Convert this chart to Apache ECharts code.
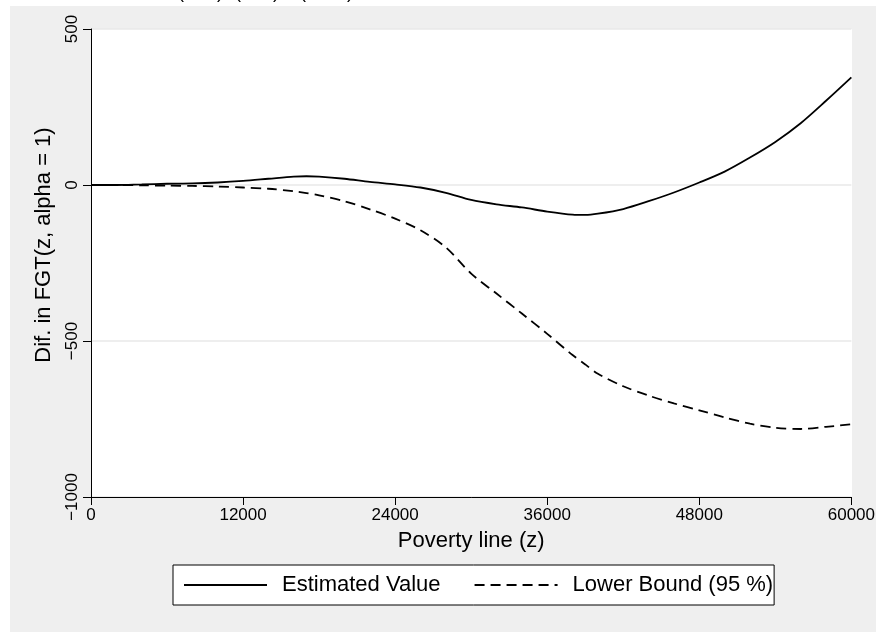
<!DOCTYPE html>
<html>
<head>
<meta charset="utf-8">
<script src="https://cdn.jsdelivr.net/npm/echarts@6/dist/echarts.min.js"></script>
<style>
html,body{margin:0;padding:0;background:#fff;}
#c{width:878px;height:632px;}
</style>
</head>
<body>
<div id="c"></div>
<script>
const povertyLine = [0,2000,4000,6000,8000,10000,12000,14000,16000,17000,18000,20000,22000,24000,26000,28000,30000,32000,34000,36000,38000,39000,40000,42000,44000,46000,48000,50000,52000,54000,56000,58000,60000];
const estimatedValue = [0,0,2,4,5,8,13,20,27,28,27,20,10,2,-8,-25,-48,-62,-72,-85,-95,-96,-92,-77,-52,-24,8,43,88,138,198,270,345];
const lowerBound = [0,0,-1,-2,-3,-5,-8,-12,-20,-26,-33,-52,-78,-108,-145,-200,-284,-348,-412,-477,-545,-575,-605,-645,-675,-700,-722,-745,-765,-778,-782,-775,-767];
const xTicks = [0,12000,24000,36000,48000,60000];
const yTicks = [-1000,-500,0,500];
const seriesNames = ['Estimated Value','Lower Bound (95 %)'];

const pair = (xs, ys) => xs.map((x,i)=>[x, ys[i]]);
const FONT = 'Liberation Sans, Arial, Helvetica, sans-serif';

const chart = echarts.init(document.getElementById('c'), null, {renderer:'canvas'});
chart.setOption({
  animation:false,
  backgroundColor:'#ffffff',
  graphic:[
    {type:'rect', shape:{x:10,y:6,width:866,height:640}, style:{fill:'#efefef'}, z:-10, silent:true},
    {type:'rect', shape:{x:91,y:29,width:761,height:468}, style:{fill:'#ffffff'}, z:-9, silent:true},
    {type:'text', x:178, y:-16, style:{text:'(', font:'18px '+FONT, fill:'#000'}},
    {type:'text', x:217, y:-16, style:{text:')', font:'18px '+FONT, fill:'#000'}},
    {type:'text', x:235, y:-16, style:{text:'(', font:'18px '+FONT, fill:'#000'}},
    {type:'text', x:273, y:-16, style:{text:')', font:'18px '+FONT, fill:'#000'}},
    {type:'text', x:300, y:-16, style:{text:'(', font:'18px '+FONT, fill:'#000'}},
    {type:'text', x:347, y:-16, style:{text:')', font:'18px '+FONT, fill:'#000'}}
  ],
  grid:{left:91,right:26,top:29,bottom:135,containLabel:false},
  xAxis:{
    type:'value', min:0, max:60000, interval:12000,
    name:'Poverty line (z)', nameLocation:'middle', nameGap:33,
    nameTextStyle:{fontFamily:FONT,fontSize:22,color:'#000'},
    axisLine:{show:true,onZero:false,lineStyle:{color:'#000',width:1}},
    axisTick:{show:true,inside:false,length:8,lineStyle:{color:'#000'}},
    axisLabel:{fontFamily:FONT,fontSize:17,color:'#000',margin:10,
      formatter:v=>String(v)},
    splitLine:{show:false}
  },
  yAxis:{
    type:'value', min:-1000, max:500, interval:500,
    name:'Dif. in FGT(z, alpha = 1)', nameLocation:'middle', nameGap:36, nameRotate:90,
    nameTextStyle:{fontFamily:FONT,fontSize:22,color:'#000',padding:[0,0,0,36]},
    axisLine:{show:true,onZero:false,lineStyle:{color:'#000',width:1}},
    axisTick:{show:true,inside:false,length:8,lineStyle:{color:'#000'}},
    axisLabel:{fontFamily:FONT,fontSize:17,color:'#000',margin:10,rotate:90,
      formatter:v=>String(v).replace('-','\u2212')},
    splitLine:{show:true,lineStyle:{color:'#e8e8e8',width:1.5}}
  },
  legend:{
    show:true,
    data:seriesNames,
    left:173, top:565, orient:'horizontal',
    backgroundColor:'#ffffff', borderColor:'#000000', borderWidth:1,
    padding:[9,1,9,10],
    itemWidth:83, itemHeight:14, itemGap:33,
    itemStyle:{opacity:0},
    textStyle:{fontFamily:FONT,fontSize:22,color:'#000',padding:[0,0,0,10]}
  },
  series:[
    {name:seriesNames[0], type:'line', data:pair(povertyLine,estimatedValue), smooth:0.3,
     symbol:'none', lineStyle:{color:'#000',width:1.8,type:'solid'}, itemStyle:{color:'#000'}},
    {name:seriesNames[1], type:'line', data:pair(povertyLine,lowerBound), smooth:0.3,
     symbol:'none', lineStyle:{color:'#000',width:1.8,type:[10,6]}, itemStyle:{color:'#000'}}
  ]
});
</script>
</body>
</html>
